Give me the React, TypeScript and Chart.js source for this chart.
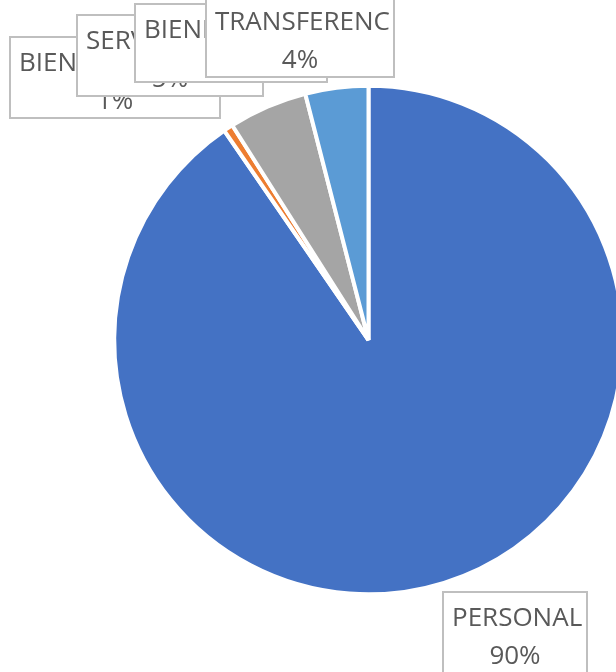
import React, { useEffect, useRef } from "react";
import { Chart, registerables } from "chart.js";

Chart.register(...registerables);

// ---- data ----
const categories = ["PERSONAL", "BIENES DE CONSUMO", "SERVICIOS NO PERSONALES", "BIENES DE USO", "TRANSFERENC"];
const values = [90.4, 0.6, 5.0, 0, 4.0];

// ---- style ----
const colors = ["#4472C4", "#ED7D31", "#A5A5A5", "#FFC000", "#5B9BD5"];
const FONT = '26px "Open Sans", "Noto Sans", sans-serif';
const TEXT_COLOR = "#595959";
const BOX_BORDER = "#BFBFBF";
// label boxes (page layout), one per category
const labelBoxes = [
  { x: 443, y: 592, w: 144, h: 84 },
  { x: 10, y: 37, w: 210, h: 81 },
  { x: 77, y: 15, w: 186, h: 81 },
  { x: 135, y: 4, w: 192, h: 78 },
  { x: 206, y: -4, w: 188, h: 81 },
];

const labelPlugin = {
  id: "boxLabels",
  afterDraw(chart: any) {
    const ctx = chart.ctx as CanvasRenderingContext2D;
    const data = chart.data.datasets[0].data as number[];
    const total = data.reduce((a, b) => a + b, 0);
    ctx.save();
    ctx.font = FONT;
    ctx.textBaseline = "alphabetic";
    data.forEach((v, i) => {
      const b = labelBoxes[i];
      ctx.save();
      ctx.fillStyle = "#FFFFFF";
      ctx.fillRect(b.x, b.y, b.w, b.h);
      ctx.strokeStyle = BOX_BORDER;
      ctx.lineWidth = 2;
      ctx.strokeRect(b.x, b.y, b.w, b.h);
      ctx.beginPath();
      ctx.rect(b.x + 1, b.y + 1, b.w - 2, b.h - 2);
      ctx.clip();
      ctx.fillStyle = TEXT_COLOR;
      const name = chart.data.labels[i] as string;
      const cx = b.x + b.w / 2;
      const w1 = ctx.measureText(name).width;
      const x1 = Math.max(b.x + 9, cx - w1 / 2);
      ctx.textAlign = "left";
      ctx.fillText(name, x1, b.y + 34);
      const pct = Math.round((v / total) * 100) + "%";
      ctx.textAlign = "center";
      ctx.fillText(pct, cx, b.y + 72);
      ctx.restore();
    });
    ctx.restore();
  },
};

export default function App() {
  const ref = useRef<HTMLCanvasElement | null>(null);
  useEffect(() => {
    document.body.style.margin = "0";
    const canvas = ref.current!;
    const chart = new Chart(canvas, {
      type: "pie",
      data: {
        labels: categories,
        datasets: [
          {
            data: values,
            backgroundColor: colors,
            borderColor: "#FFFFFF",
            borderWidth: 4,
          },
        ],
      },
      options: {
        animation: false,
        responsive: false,
        devicePixelRatio: 1,
        radius: 254.3,
        layout: { padding: { left: 110, right: 3, top: 8, bottom: 0 } },
        plugins: {
          legend: { display: false },
          tooltip: { enabled: false },
        },
      } as any,
      plugins: [labelPlugin],
    });
    return () => chart.destroy();
  }, []);
  return (
    <div style={{ width: 616, height: 672, overflow: "hidden", position: "relative" }}>
      <canvas ref={ref} width={630} height={672} style={{ width: 630, height: 672, display: "block" }} />
    </div>
  );
}
